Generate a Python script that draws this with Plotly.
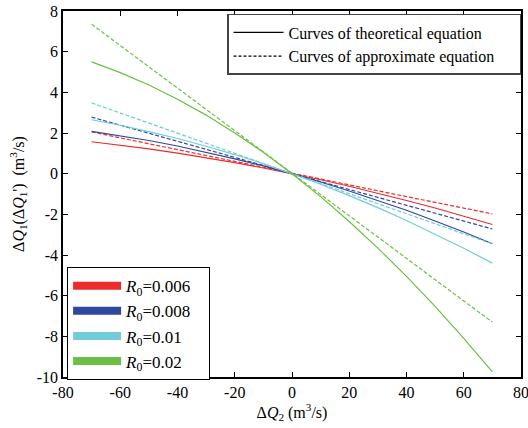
import plotly.graph_objects as go

# flow change on the second branch (m3/s)
dq2 = [-70, -60, -50, -40, -30, -20, -10, 0, 10, 20, 30, 40, 50, 60, 70]

r0_labels = ['0.006', '0.008', '0.01', '0.02']
colors = ['#ee2b2b', '#2e489e', '#72ccd9', '#6cbf45']

# theoretical equation curves
theo_006 = [1.57, 1.40, 1.22, 1.01, 0.79, 0.54, 0.28, 0, -0.30, -0.62, -0.96, -1.32, -1.69, -2.09, -2.50]
theo_008 = [2.08, 1.87, 1.63, 1.36, 1.06, 0.73, 0.38, 0, -0.41, -0.85, -1.31, -1.80, -2.33, -2.87, -3.45]
theo_01 = [2.65, 2.38, 2.07, 1.73, 1.35, 0.94, 0.49, 0, -0.52, -1.08, -1.67, -2.30, -2.97, -3.67, -4.40]
theo_02 = [5.50, 4.97, 4.36, 3.66, 2.88, 2.00, 1.05, 0, -1.13, -2.35, -3.66, -5.05, -6.53, -8.10, -9.75]

# approximate equation curves
appr_006 = [2.05, 1.76, 1.46, 1.17, 0.88, 0.58, 0.29, 0, -0.29, -0.57, -0.85, -1.13, -1.41, -1.69, -1.98]
appr_008 = [2.78, 2.38, 1.98, 1.59, 1.19, 0.79, 0.40, 0, -0.39, -0.78, -1.17, -1.56, -1.95, -2.33, -2.72]
appr_01 = [3.48, 2.98, 2.48, 1.99, 1.49, 0.99, 0.50, 0, -0.49, -0.99, -1.48, -1.97, -2.47, -2.96, -3.45]
appr_02 = [7.35, 6.30, 5.25, 4.20, 3.15, 2.10, 1.05, 0, -1.04, -2.09, -3.13, -4.17, -5.21, -6.26, -7.30]

x_ticks = [-80, -60, -40, -20, 0, 20, 40, 60, 80]
y_ticks = [-10, -8, -6, -4, -2, 0, 2, 4, 6, 8]

theo = [theo_006, theo_008, theo_01, theo_02]
appr = [appr_006, appr_008, appr_01, appr_02]

font = 'Liberation Serif'
pad1 = '\u00a0' * 5   # trailing room inside the line-style legend box
pad2 = '\u00a0' * 3   # trailing room inside the R0 legend box
fig = go.Figure()

for c, t, a in zip(colors, theo, appr):
    fig.add_trace(go.Scatter(x=dq2, y=t, mode='lines', line=dict(color=c, width=1.2), showlegend=False))
    fig.add_trace(go.Scatter(x=dq2, y=a, mode='lines', line=dict(color=c, width=1.2, dash='4px,2px'), showlegend=False))

# line style legend
fig.add_trace(go.Scatter(x=[None], y=[None], mode='lines', line=dict(color='black', width=1.3),
                         name='Curves of theoretical equation' + pad1, legend='legend'))
fig.add_trace(go.Scatter(x=[None], y=[None], mode='lines', line=dict(color='black', width=1.3, dash='3px,2px'),
                         name='Curves of approximate equation' + pad1, legend='legend'))

# colour legend
for c, lab in zip(colors, r0_labels):
    fig.add_trace(go.Scatter(x=[None], y=[None], mode='lines', line=dict(color=c, width=8),
                             name='<i>R</i><sub>0</sub>=' + lab + pad2, legend='legend2'))

axis_common = dict(showgrid=False, zeroline=False, ticks='inside', ticklen=5, tickcolor='black',
                   linecolor='black', linewidth=1.5, mirror='ticks', showline=True, automargin=False,
                   ticklabeloverflow='allow',
                   tickfont=dict(family=font, size=16, color='black'))

fig.update_xaxes(range=[-80, 80], tickvals=x_ticks, ticktext=[str(v) for v in x_ticks], **axis_common,
                 title=dict(text='Δ<i>Q</i><sub>2</sub> (m<sup>3</sup>/s)', standoff=4,
                            font=dict(family=font, size=16, color='black')))
fig.update_yaxes(range=[-10, 8], tickvals=y_ticks, ticktext=[str(v) for v in y_ticks], **axis_common,
                 title=dict(text="Δ<i>Q</i><sub>1</sub>(Δ<i>Q</i><sub>1</sub>')  (m<sup>3</sup>/s)", standoff=8,
                            font=dict(family=font, size=16, color='black')))

fig.update_layout(
    width=528, height=428,
    margin=dict(l=63, r=7, t=11, b=51),
    plot_bgcolor='white', paper_bgcolor='white',
    font=dict(family=font, size=16, color='black'),
    legend=dict(x=1.0, y=0.992, xanchor='right', yanchor='top', bgcolor='white',
                bordercolor='#444444', borderwidth=1.5, font=dict(family=font, size=16),
                itemwidth=50, tracegroupgap=0),
    legend2=dict(x=0.009, y=0.30, xanchor='left', yanchor='top', bgcolor='white',
                 bordercolor='black', borderwidth=1, font=dict(family=font, size=17),
                 itemwidth=48, tracegroupgap=0),
)

fig.write_html('out.html', config={'displayModeBar': False})

# drop the default page margin so the figure sits at the window corner
with open('out.html', encoding='utf-8') as f:
    page = f.read()
page = page.replace('<body>', '<body style="margin:0;overflow:hidden">', 1)
with open('out.html', 'w', encoding='utf-8') as f:
    f.write(page)
